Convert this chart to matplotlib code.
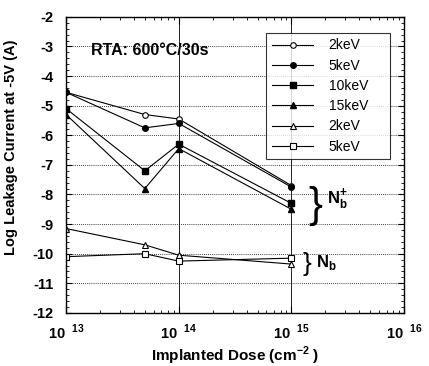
import matplotlib.pyplot as plt
from matplotlib.ticker import FixedLocator, LogLocator, NullFormatter
from matplotlib.transforms import ScaledTranslation

plt.rcParams['font.family'] = ['Liberation Sans', 'DejaVu Sans']
plt.rcParams['font.weight'] = 'bold'
plt.rcParams['axes.labelweight'] = 'bold'
plt.rcParams['mathtext.fontset'] = 'custom'
plt.rcParams['mathtext.rm'] = 'Liberation Sans:bold'
plt.rcParams['mathtext.bf'] = 'Liberation Sans:bold'

# implanted dose (cm^-2) and log leakage current
dose = [1e13, 5e13, 1e14, 1e15]
nplus_2kev = [-4.55, -5.3, -5.45, -7.7]
nplus_5kev = [-4.55, -5.75, -5.6, -7.75]
nplus_10kev = [-5.1, -7.2, -6.3, -8.3]
nplus_15kev = [-5.3, -7.8, -6.45, -8.5]
nb_2kev = [-9.15, -9.7, -10.05, -10.35]
nb_5kev = [-10.1, -10.0, -10.25, -10.15]

x_ticks = [1e13, 1e14, 1e15, 1e16]
x_tick_labels = ['13', '14', '15', '16']
y_ticks = list(range(-12, -1))

fig = plt.figure(figsize=(4.29, 3.66), dpi=100)
ax = fig.add_axes([0.154, 0.145, 0.788, 0.809])

ax.plot(dose, nplus_2kev, '-o', c='k', lw=0.8, ms=4, mfc='white', mew=0.8, label='2keV')
ax.plot(dose, nplus_5kev, '-o', c='k', lw=0.8, ms=4, label='5keV')
ax.plot(dose, nplus_10kev, '-s', c='k', lw=0.8, ms=4, label='10keV')
ax.plot(dose, nplus_15kev, '-^', c='k', lw=0.8, ms=4, label='15keV')
ax.plot(dose, nb_2kev, '-^', c='k', lw=0.8, ms=4, mfc='white', mew=0.8, label='2keV')
ax.plot(dose, nb_5kev, '-s', c='k', lw=0.8, ms=4, mfc='white', mew=0.8, label='5keV')

ax.set_xscale('log')
ax.set_xlim(1e13, 1e16)
ax.set_ylim(-12, -2)

# grid: dotted horizontals, solid verticals at decades
for y in y_ticks[1:-1]:
    ax.axhline(y, color='k', lw=0.6, ls=(0, (1, 1.5)), zorder=0)
for xv in [1e14, 1e15]:
    ax.axvline(xv, color='k', lw=0.6, zorder=0)

ax.xaxis.set_major_locator(FixedLocator(x_ticks))
ax.set_xticklabels([r'10$^{\ \ ' + t + '}$' for t in x_tick_labels], fontsize=10.5)
shift = ScaledTranslation(6 / 100, 0, fig.dpi_scale_trans)
for lbl in ax.get_xticklabels():
    lbl.set_transform(lbl.get_transform() + shift)
ax.xaxis.set_minor_locator(LogLocator(base=10, subs=range(2, 10)))
ax.xaxis.set_minor_formatter(NullFormatter())
ax.set_yticks(y_ticks)
ax.set_yticklabels([str(v) for v in y_ticks], fontsize=10.5)
ax.yaxis.set_minor_locator(FixedLocator([v / 5 for v in range(-60, -9)]))
ax.tick_params(axis='both', which='both', direction='in', top=True, right=True)
ax.tick_params(axis='x', which='major', length=5, pad=7)
ax.tick_params(axis='y', which='major', length=4, pad=9)
ax.tick_params(which='minor', length=2)
for s in ax.spines.values():
    s.set_linewidth(1.0)

ax.set_xlabel('Implanted Dose (cm$^{\\mathbf{-2}}$ )', fontsize=11, labelpad=2)
ax.set_ylabel('Log Leakage Current at -5V (A)', fontsize=10.5)
ax.yaxis.set_label_coords(-0.143, 0.56)

ax.text(0.075, 0.885, 'RTA: 600°C/30s', transform=ax.transAxes, fontsize=11.5,
        ha='left', va='center')

leg = ax.legend(loc='upper left', bbox_to_anchor=(0.592, 0.946, 0.367, 0.0),
                mode='expand', frameon=True, fancybox=False, edgecolor='k',
                fontsize=10, handlelength=3.0, handletextpad=1.1,
                labelspacing=0.45, borderpad=0.4, borderaxespad=0.0)
leg.get_frame().set_linewidth(0.8)
for t in leg.get_texts():
    t.set_fontweight('normal')

# bracket annotations
ax.text(1.4e15, -8.4, '}', fontsize=30, fontweight='normal', ha='left', va='center')
ax.text(2.05e15, -8.15, r'N$_\mathrm{b}^{+}$', fontsize=12, ha='left', va='center')
ax.text(1.25e15, -10.35, '}', fontsize=19, fontweight='normal', ha='left', va='center')
ax.text(1.65e15, -10.3, r'N$_\mathrm{b}$', fontsize=12, ha='left', va='center')

fig.savefig('out.png', dpi=100)
